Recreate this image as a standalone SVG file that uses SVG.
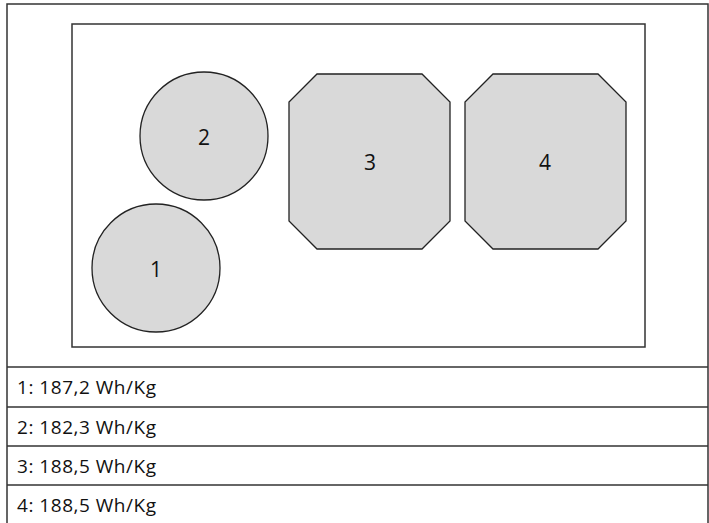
<svg xmlns="http://www.w3.org/2000/svg" width="709" height="523" viewBox="0 0 709 523">
<style>
.s{fill:#d9d9d9;stroke:#222;stroke-width:1.3}
.n{font-family:"Open Sans",sans-serif;font-size:21px;fill:#111;text-anchor:middle;dominant-baseline:central}
.t{font-family:"Open Sans",sans-serif;font-size:19px;fill:#111;dominant-baseline:central}
.l{stroke:#333;stroke-width:1.5;fill:none}
</style>
<rect x="0" y="0" width="709" height="523" fill="#fff"/>
<rect class="l" x="7" y="4" width="701" height="520"/>
<rect class="l" x="72" y="24" width="573" height="323"/>
<g id="connectors"/>
<g id="n2"><circle class="s" cx="204" cy="136" r="64"/><text class="n" x="204" y="137">2</text></g>
<g id="n1"><circle class="s" cx="156" cy="268" r="64"/><text class="n" x="156" y="269">1</text></g>
<g id="n3"><polygon class="s" points="317,74 422,74 450,102 450,221 422,249 317,249 289,221 289,102"/><text class="n" x="370" y="162">3</text></g>
<g id="n4"><polygon class="s" points="493,74 598,74 626,102 626,221 598,249 493,249 465,221 465,102"/><text class="n" x="545" y="162">4</text></g>
<g id="table">
<line class="l" x1="7" y1="367" x2="708" y2="367"/>
<line class="l" x1="7" y1="407" x2="708" y2="407"/>
<line class="l" x1="7" y1="446" x2="708" y2="446"/>
<line class="l" x1="7" y1="485" x2="708" y2="485"/>
<text class="t" x="17" y="387" textLength="139">1: 187,2 Wh/Kg</text>
<text class="t" x="17" y="427" textLength="139">2: 182,3 Wh/Kg</text>
<text class="t" x="17" y="466" textLength="139">3: 188,5 Wh/Kg</text>
<text class="t" x="17" y="505" textLength="139">4: 188,5 Wh/Kg</text>
</g>
</svg>
